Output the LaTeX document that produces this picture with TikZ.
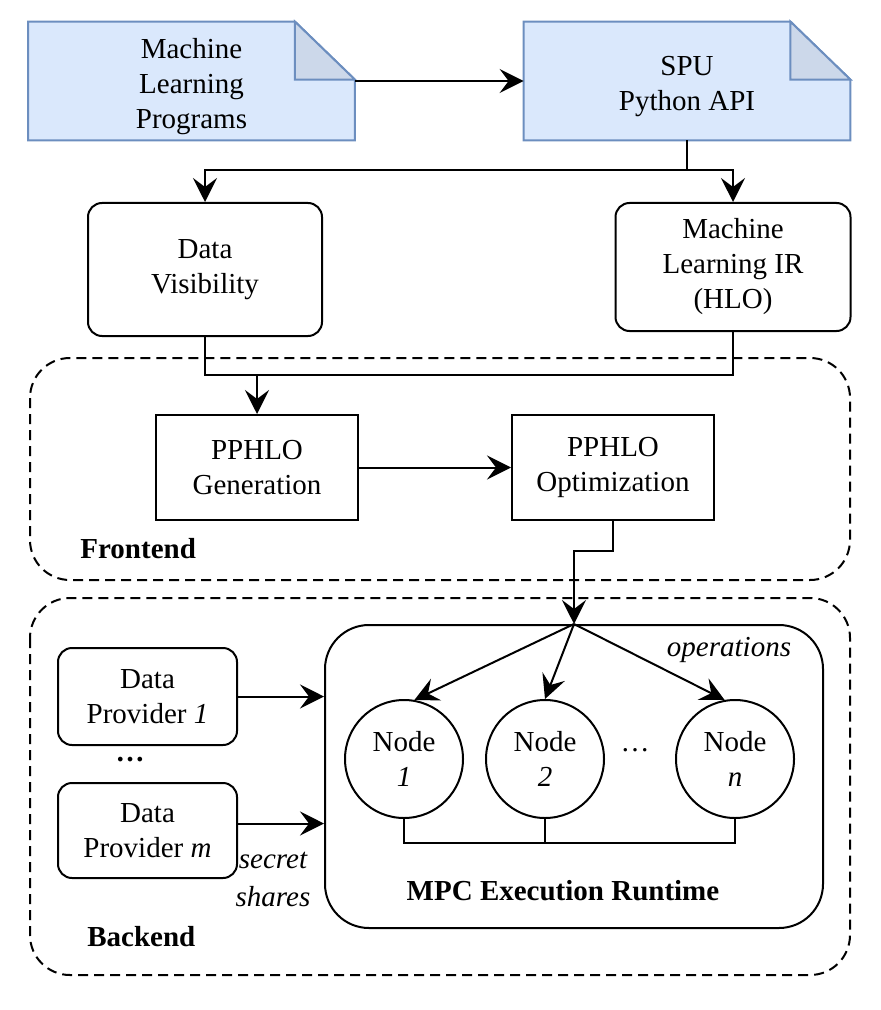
\documentclass[tikz,border=0pt]{standalone}
\usepackage{fontspec}
\setmainfont{Liberation Serif}
\usetikzlibrary{arrows.meta,backgrounds,calc}
\definecolor{docFill}{HTML}{DAE8FC}
\definecolor{docLine}{HTML}{6C8EBF}
\definecolor{docFold}{HTML}{CCD8EA}
\tikzset{
    baseText/.style={font=\fontsize{14.5}{17.5}\selectfont, align=center, inner sep=0pt},
    docBox/.style={baseText, rectangle, minimum width=163pt, minimum height=59pt},
    roundBox/.style={baseText, rectangle, draw, line width=1pt, rounded corners=7pt},
    plainBox/.style={baseText, rectangle, draw, line width=1pt, minimum width=101pt, minimum height=52.5pt},
    mpcNode/.style={baseText, circle, draw, line width=1pt, minimum size=59pt},
    region/.style={draw, line width=1pt, dash pattern=on 5pt off 3pt, rounded corners=20pt},
    % Arrows
    line/.style={draw, line width=1pt},
    arr/.style={line, -{Stealth[length=12pt,width=12pt,inset=4.5pt]}}
}
% document outline, drawn 3pt above the text node
\newcommand{\drawdoc}[1]{%
    \draw[docLine, fill=docFill, line width=1pt] ([yshift=3pt]#1.south west) -- ([yshift=3pt]#1.north west)
        -- ([xshift=-30pt,yshift=3pt]#1.north east) -- ([yshift=-26pt]#1.north east) -- ([yshift=3pt]#1.south east) -- cycle;
    \draw[docLine, fill=docFold, line width=1pt] ([xshift=-30pt,yshift=3pt]#1.north east)
        -- ([xshift=-30pt,yshift=-26pt]#1.north east) -- ([yshift=-26pt]#1.north east) -- cycle;
}
\begin{document}
\begin{tikzpicture}[x=0.5pt, y=-0.5pt]
    \useasboundingbox (0,0) rectangle (880,1010);

    % Input documents
    \node[docBox] (mlp) at (191.5,87) {Machine\\Learning\\Programs};
    \node[docBox] (spu) at (687,87) {SPU\\Python API};
    \begin{scope}[on background layer]
        \drawdoc{mlp}
        \drawdoc{spu}
    \end{scope}

    \node[roundBox, minimum width=117pt, minimum height=66.5pt] (dv) at (205,269.5) {Data\\Visibility};
    \node[roundBox, minimum width=117.5pt, minimum height=64pt] (mlir) at (733,267) {Machine\\Learning IR\\(HLO)};

    % Frontend
    \draw[region] (30,358) rectangle (850,580);
    \node[plainBox] (gen) at (257,467.5) {PPHLO\\Generation};
    \node[plainBox] (opt) at (613,467.5) {PPHLO\\Optimization};
    \node[baseText, font=\fontsize{14.5}{17.5}\selectfont\bfseries, anchor=west] (fe) at (80,549) {Frontend};

    % Backend
    \draw[region] (30,598) rectangle (850,975);
    \node[roundBox, rounded corners=22pt, minimum width=249pt, minimum height=151.5pt] (runtime) at (574,776.5) {};
    \node[roundBox, minimum width=89.5pt, minimum height=48.5pt] (dp1) at (147.5,696.5) {Data\\Provider \textit{1}};
    \node[roundBox, minimum width=89.5pt, minimum height=47.5pt] (dpm) at (147.5,830.5) {Data\\Provider \textit{m}};
    \node[baseText] (dpdots) at (130,760) {\textbf{\dots}};
    \node[mpcNode] (n1) at (404,759) {Node\\\textit{1}};
    \node[mpcNode] (n2) at (545,759) {Node\\\textit{2}};
    \node[mpcNode] (nn) at (735,759) {Node\\\textit{n}};
    \node[baseText] (ndots) at (635,750) {\dots};
    \node[baseText, font=\fontsize{14.5}{17.5}\selectfont\itshape] (ops) at (729,650) {operations};
    \node[baseText, font=\fontsize{14.5}{19}\selectfont\itshape] (shares) at (273,879) {secret\\shares};
    \node[baseText, font=\fontsize{14.5}{17.5}\selectfont\bfseries] (rtlabel) at (563,891) {MPC Execution Runtime};
    \node[baseText, font=\fontsize{14.5}{17.5}\selectfont\bfseries, anchor=west] (be) at (87,937) {Backend};

    \coordinate (merge) at (257,375);

    \draw[arr] ([yshift=3pt]mlp.east) -- ([yshift=3pt]spu.west);
    \draw[arr] ([yshift=3pt]spu.south) -- ++(0,30) -| (dv.north);
    \draw[arr] ([yshift=3pt]spu.south) -- ++(0,30) -| (mlir.north);
    \draw[line] (dv.south) |- (merge);
    \draw[line] (mlir.south) |- (merge);
    \draw[arr] (merge) -- (gen.north);
    \draw[arr] (gen.east) -- (opt.west);
    \draw[arr] (opt.south) -- ++(0,30) -| (runtime.north);
    \draw[arr] (runtime.north) -- (n1.80);
    \draw[arr] (runtime.north) -- (n2.north);
    \draw[arr] (runtime.north) -- (nn.100);
    \draw[arr] (dp1.east) -- (dp1.east -| runtime.west);
    \draw[arr] ([yshift=3.5pt]dpm.east) -- ([yshift=3.5pt]dpm.east -| runtime.west);
    \draw[line] (n1.south) -- ++(0,24) -| (nn.south);
    \draw[line] (n2.south) -- ++(0,24);
\end{tikzpicture}
\end{document}
